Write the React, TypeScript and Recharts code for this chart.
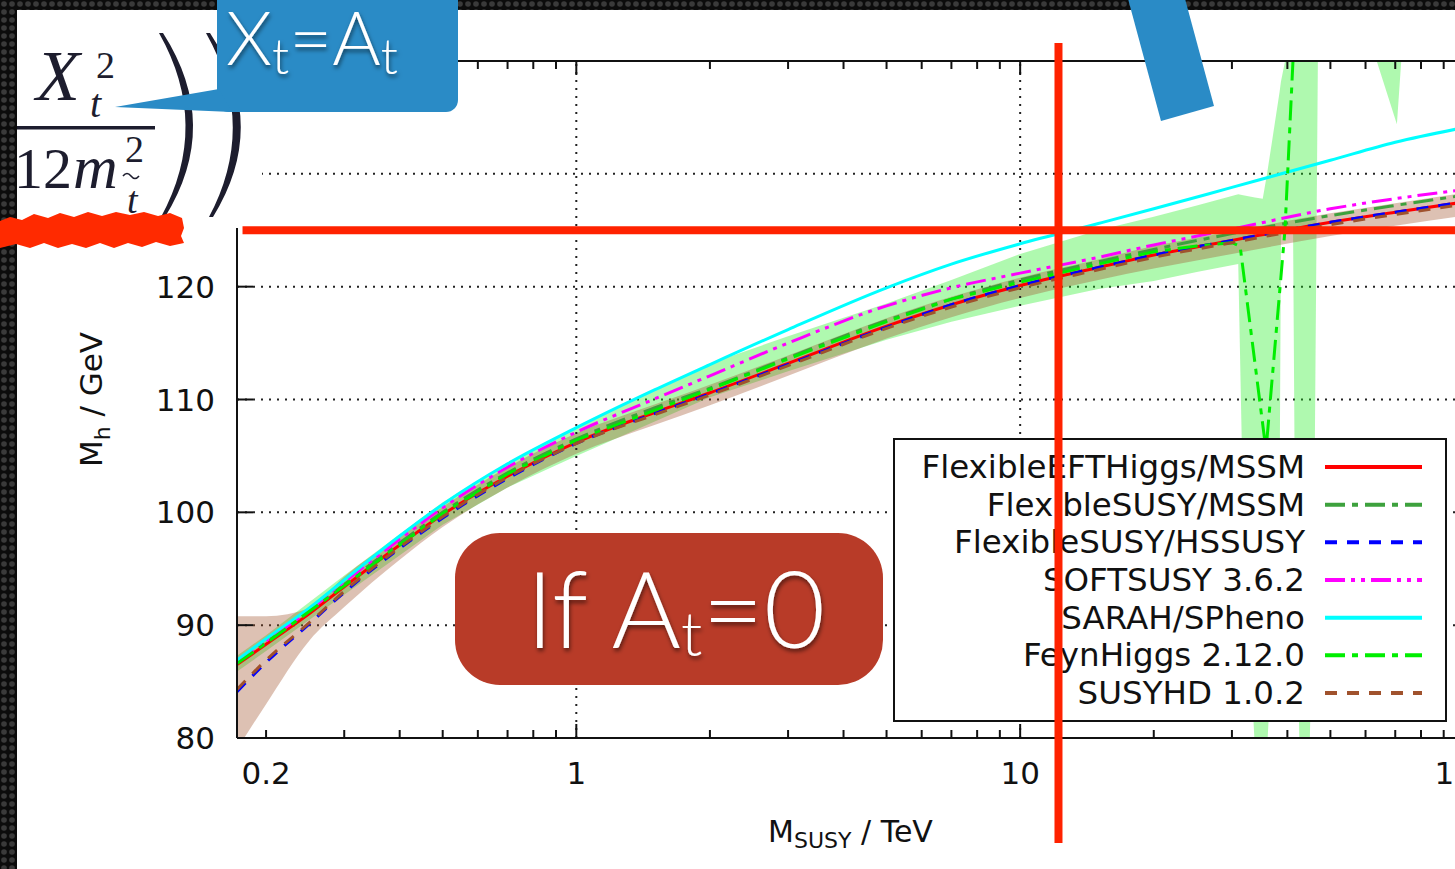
import React from 'react';
import { ComposedChart, Line, Area, XAxis, YAxis, CartesianGrid, ReferenceLine, Legend } from 'recharts';

// ---------- data ----------
const MSUSY = [0.172, 0.2, 0.25, 0.3, 0.4, 0.5, 0.7, 1, 1.5, 2, 3, 5, 7, 10, 15, 20, 30, 50, 70, 100];
const FLEXIBLE_EFT_HIGGS = [86.5, 88.3, 91.0, 93.4, 97.1, 99.8, 103.2, 106.2, 108.85, 110.6, 113.2, 116.5, 118.4, 120.1, 121.7, 122.8, 124.1, 125.7, 126.6, 127.5];
const FLEXIBLE_SUSY_MSSM = [86.7, 88.5, 91.2, 93.6, 97.3, 100.0, 103.5, 106.5, 109.25, 111.0, 113.7, 117.0, 118.9, 120.6, 122.2, 123.3, 124.7, 126.3, 127.2, 128.1];
const FLEXIBLE_SUSY_HSSUSY = [84.1, 86.7, 90.1, 92.9, 96.8, 99.5, 103.0, 106.1, 108.75, 110.5, 113.1, 116.4, 118.4, 120.1, 121.7, 122.8, 124.1, 125.7, 126.6, 127.5];
const SOFTSUSY = [86.8, 88.6, 91.3, 93.8, 97.6, 100.4, 104.0, 107.1, 110.05, 112.1, 115.0, 118.3, 119.9, 121.2, 122.6, 123.7, 125.1, 126.9, 127.8, 128.6];
const SARAH_SPHENO = [86.9, 88.8, 91.5, 94.0, 97.9, 100.7, 104.3, 107.5, 110.85, 113.1, 116.2, 119.9, 122.0, 123.8, 125.6, 126.9, 128.8, 131.2, 132.8, 134.1];
const SUSYHD = [84.3, 86.9, 90.2, 93.0, 96.9, 99.6, 103.1, 106.1, 108.65, 110.4, 113.0, 116.3, 118.2, 119.9, 121.5, 122.6, 123.9, 125.5, 126.4, 127.3];
const SUSYHD_LOW = [79.0, 83.0, 88.6, 91.6, 95.8, 98.7, 102.2, 105.2, 107.75, 109.5, 112.1, 115.4, 117.3, 119.0, 120.6, 121.6, 122.9, 124.5, 125.4, 126.3];
const SUSYHD_HIGH = [90.8, 90.8, 91.5, 94.3, 97.9, 100.5, 104.0, 107.0, 109.55, 111.3, 113.9, 117.2, 119.1, 120.8, 122.4, 123.6, 124.9, 126.5, 127.4, 128.3];

const FH_MSUSY = [0.172, 0.2, 0.3, 0.5, 0.7, 1, 2, 3, 5, 7, 10, 15, 20, 25, 30, 31.3, 35.8, 39.5, 41.2, 43, 100];
const FH_MH = [86.6, 88.4, 93.5, 99.9, 103.4, 106.4, 110.9, 113.6, 116.9, 118.9, 120.4, 122.0, 123.1, 123.6, 123.9, 123.6, 105.5, 125.0, 140.2, 170, 170];

const FH_BAND_MSUSY = [0.172, 0.2, 0.3, 0.5, 0.7, 1, 2, 3, 5, 7, 10, 15, 20, 25, 31.0, 31.8, 33.8, 35.2, 36.0, 38.4, 38.7, 40.0, 41.2, 41.6, 42.6, 44.9, 46.0, 46.9, 60, 62.4, 70.6, 72.5, 80, 100];
const FH_BAND_LOW = [85.9, 87.7, 92.7, 98.9, 102.2, 105.0, 110.2, 112.5, 115.3, 116.9, 118.3, 119.8, 120.5, 121.3, 122.0, 100, 79, 79, 79, 100, 124.7, 124.9, 125.0, 100, 79, 79, 100, 142, 150, 141, 134.4, 141, 150, 150];
const FH_BAND_HIGH = [87.3, 89.1, 94.4, 100.9, 104.4, 107.5, 113.2, 115.6, 118.5, 120.6, 122.9, 125.0, 126.2, 127.2, 128.2, 128.1, 127.9, 127.8, 130.0, 137.2, 138.2, 141, 150, 150, 150, 150, 150, 150, 160, 160, 160, 160, 160, 160];

const X_TICKS = [0.2, 0.3, 0.4, 0.5, 0.6, 0.7, 0.8, 0.9, 1, 2, 3, 4, 5, 6, 7, 8, 9, 10, 20, 30, 40, 50, 60, 70, 80, 90, 100];
const X_LABELS = [0.2, 1, 10, 100];
const X_MAJOR = [1, 10, 100];
const Y_TICKS = [80, 90, 100, 110, 120, 130, 140];
const X_DOMAIN = [0.172, 100];
const Y_DOMAIN = [80, 140];

const HIGGS_MASS = 125;
const HIGGS_LINE_START = 0.177;
const MSUSY_MARK = 12.2;
const MARK_Y_TOP = 141.6;
const MARK_Y_BOTTOM = 70.7;

const SERIES = [
  { name: 'FlexibleEFTHiggs/MSSM', values: FLEXIBLE_EFT_HIGGS, color: '#ff0000', dash: undefined as string | undefined },
  { name: 'FlexibleSUSY/MSSM', values: FLEXIBLE_SUSY_MSSM, color: '#3da13d', dash: '20 7 6 7' },
  { name: 'FlexibleSUSY/HSSUSY', values: FLEXIBLE_SUSY_HSSUSY, color: '#0000ff', dash: '12 10' },
  { name: 'SOFTSUSY 3.6.2', values: SOFTSUSY, color: '#ff00ff', dash: '20 6 4 6 4 6' },
  { name: 'SARAH/SPheno', values: SARAH_SPHENO, color: '#00ffff', dash: undefined },
  { name: 'FeynHiggs 2.12.0', values: FH_MH, color: '#00ee00', dash: '20 7 6 7' },
  { name: 'SUSYHD 1.0.2', values: SUSYHD, color: '#a0522d', dash: '12 10' },
];

const FONT = '"DejaVu Sans", Verdana, sans-serif';
const W = 1500;
const H = 869;
const MARGIN = { top: 60, right: 36, bottom: 0, left: 0 };
const TOP_AXIS_H = 1;
const Y_AXIS_W = 237;
const X_AXIS_H = 131;

const toRows = (xs: number[], ys: number[]) => xs.map((m, i) => ({ m, v: ys[i] }));
const toBand = (xs: number[], lo: number[], hi: number[]) => xs.map((m, i) => ({ m, band: [lo[i], hi[i]] }));

const fhBandData = toBand(FH_BAND_MSUSY, FH_BAND_LOW, FH_BAND_HIGH);
const shdBandData = toBand(MSUSY, SUSYHD_LOW, SUSYHD_HIGH);

const BottomTick = (props: any) => {
  const { x, y, payload } = props;
  const v = payload.value;
  const major = X_MAJOR.includes(v);
  return (
    <g>
      <line x1={x} x2={x} y1={y} y2={y - (major ? 14 : 8)} stroke="#111" strokeWidth={2} />
      {X_LABELS.includes(v) && (
        <text x={x} y={y + 46} textAnchor="middle" fontSize={31} fontFamily={FONT} fill="#111">{String(v)}</text>
      )}
    </g>
  );
};
const TopTick = (props: any) => {
  const { x, y, payload } = props;
  const major = X_MAJOR.includes(payload.value);
  return <line x1={x} x2={x} y1={y} y2={y + (major ? 14 : 8)} stroke="#111" strokeWidth={2} />;
};
const LeftTick = (props: any) => {
  const { x, y, payload } = props;
  return (
    <g>
      <line x1={x} x2={x + 16} y1={y} y2={y} stroke="#111" strokeWidth={2} />
      <text x={x - 22} y={y + 11} textAnchor="end" fontSize={31} fontFamily={FONT} fill="#111">{String(payload.value)}</text>
    </g>
  );
};
const RightTick = (props: any) => {
  const { x, y } = props;
  return <line x1={x} x2={x - 16} y1={y} y2={y} stroke="#111" strokeWidth={2} />;
};

const XTitle = (props: any) => {
  const vb = props.viewBox || { x: Y_AXIS_W, y: 738, width: 1227, height: X_AXIS_H };
  const cx = vb.x + vb.width / 2;
  return (
    <text x={cx} y={vb.y + 104} textAnchor="middle" fontSize={30} fontFamily={FONT} fill="#111">
      M<tspan fontSize={22} dy={6}>SUSY</tspan><tspan fontSize={30} dy={-6}> / TeV</tspan>
    </text>
  );
};
const YTitle = (props: any) => {
  const vb = props.viewBox || { x: 0, y: 61, width: Y_AXIS_W, height: 677 };
  const cy = vb.y + vb.height / 2;
  return (
    <text transform={`translate(${vb.x + 102}, ${cy}) rotate(-90)`} textAnchor="middle" fontSize={31} fontFamily={FONT} fill="#111">
      M<tspan fontSize={22} dy={8}>h</tspan><tspan fontSize={31} dy={-8}> / GeV</tspan>
    </text>
  );
};

const LegendBox = () => (
  <svg width={554} height={284} style={{ display: 'block' }}>
    <rect x={1} y={1} width={552} height={282} fill="#fff" stroke="#111" strokeWidth={2} />
    {SERIES.map((s, i) => {
      const cy = 29 + i * 37.67;
      return (
        <g key={s.name}>
          <text x={412} y={cy + 11} textAnchor="end" fontSize={32.5} fontFamily={FONT} fill="#111">{s.name}</text>
          <line x1={432} x2={529} y1={cy} y2={cy} stroke={s.color} strokeWidth={4} strokeDasharray={s.dash} />
        </g>
      );
    })}
  </svg>
);

const GRID_DASH = '2 6';

export default function App() {
  return (
    <div style={{ position: 'absolute', left: 0, top: 0, width: 1455, height: 869, overflow: 'hidden', background: '#fff' }}>
      <div style={{ position: 'absolute', left: 0, top: 0 }}>
        <ComposedChart width={W} height={H} margin={MARGIN}>
          <CartesianGrid vertical={false} stroke="#222" strokeWidth={2} strokeDasharray={GRID_DASH} />
          <ReferenceLine x={1} stroke="#222" strokeWidth={2} strokeDasharray={GRID_DASH} />
          <ReferenceLine x={10} stroke="#222" strokeWidth={2} strokeDasharray={GRID_DASH} />
          <XAxis dataKey="m" type="number" scale="log" domain={X_DOMAIN} allowDataOverflow ticks={X_TICKS} interval={0}
            height={X_AXIS_H} tickSize={0} tickMargin={0} tickLine={false} tick={<BottomTick />}
            axisLine={{ stroke: '#111', strokeWidth: 2 }} label={<XTitle />} />
          <XAxis xAxisId="top" orientation="top" dataKey="m" type="number" scale="log" domain={X_DOMAIN} allowDataOverflow
            ticks={X_TICKS} interval={0} height={TOP_AXIS_H} tickSize={0} tickMargin={0} tickLine={false} tick={<TopTick />}
            axisLine={{ stroke: '#111', strokeWidth: 2 }} />
          <YAxis type="number" domain={Y_DOMAIN} allowDataOverflow ticks={Y_TICKS} interval={0} width={Y_AXIS_W}
            tickSize={0} tickMargin={0} tickLine={false} tick={<LeftTick />} axisLine={{ stroke: '#111', strokeWidth: 2 }}
            label={<YTitle />} />
          <YAxis yAxisId="r" orientation="right" type="number" domain={Y_DOMAIN} allowDataOverflow ticks={Y_TICKS}
            interval={0} width={0} tickSize={0} tickMargin={0} tickLine={false} tick={<RightTick />}
            axisLine={{ stroke: '#111', strokeWidth: 2 }} />
          <Area data={fhBandData} dataKey="band" type="linear" stroke="none" fill="#22ee22" fillOpacity={0.36}
            isAnimationActive={false} legendType="none" activeDot={false} />
          <Area data={shdBandData} dataKey="band" type="monotone" stroke="none" fill="#a0522d" fillOpacity={0.36}
            isAnimationActive={false} legendType="none" activeDot={false} />
          {SERIES.map((s) => (
            <Line key={s.name} name={s.name}
              data={s.name.startsWith('FeynHiggs') ? toRows(FH_MSUSY, s.values) : toRows(MSUSY, s.values)}
              dataKey="v" type={s.name.startsWith('FeynHiggs') ? 'linear' : 'monotone'}
              stroke={s.color} strokeWidth={3} strokeDasharray={s.dash} dot={false} activeDot={false}
              isAnimationActive={false} />
          ))}
          <Legend layout="vertical" align="center" verticalAlign="middle" content={() => <LegendBox />}
            wrapperStyle={{ left: 893, top: 438, width: 554, height: 284 }} />
        </ComposedChart>
      </div>

      {/* slide annotation: formula image region */}
      <svg width={1455} height={869} style={{ position: 'absolute', left: 0, top: 0, pointerEvents: 'none' }}>
        <defs>
          <pattern id="dots" width={8} height={8} patternUnits="userSpaceOnUse">
            <rect width={8} height={8} fill="#0c0c0c" />
            <circle cx={4} cy={4} r={2.8} fill="#3a3a3a" />
          </pattern>
        </defs>
        <rect x={17} y={10} width={245} height={218} fill="#fff" />
        <g fill="#1d1d2e" fontFamily='"Liberation Serif", "DejaVu Serif", serif'>
          <text x={36} y={100} fontSize={72} fontStyle="italic">X</text>
          <text x={96} y={78} fontSize={38}>2</text>
          <text x={90} y={117} fontSize={40} fontStyle="italic">t</text>
          <rect x={10} y={126} width={145} height={3.5} />
          <text x={14} y={188} fontSize={58}>12</text>
          <text x={73} y={188} fontSize={62} fontStyle="italic">m</text>
          <text x={125} y={162} fontSize={38}>2</text>
          <path d="M123,176 q4,-5 8,0 t8,0" stroke="#1d1d2e" strokeWidth={1.6} fill="none" />
          <text x={127} y={213} fontSize={38} fontStyle="italic">t</text>
          <path d="M163,33 Q222,125 165,217 L161,217 Q211,125 159,33 Z" />
          <path d="M210,33 Q270,125 213,217 L209,217 Q258,125 206,33 Z" />
        </g>
        <rect x={0} y={0} width={1455} height={10} fill="url(#dots)" />
        <rect x={0} y={0} width={17} height={869} fill="url(#dots)" />
      </svg>

      {/* red marker lines through the chart's own scales */}
      <div style={{ position: 'absolute', left: 0, top: 0, pointerEvents: 'none' }}>
        <ComposedChart width={W} height={H}
          margin={{ top: MARGIN.top + TOP_AXIS_H, right: MARGIN.right, bottom: X_AXIS_H, left: Y_AXIS_W }}
          data={toRows(MSUSY, FLEXIBLE_EFT_HIGGS)}>
          <XAxis dataKey="m" type="number" scale="log" domain={X_DOMAIN} allowDataOverflow hide />
          <YAxis type="number" domain={Y_DOMAIN} allowDataOverflow hide />
          <ReferenceLine segment={[{ x: HIGGS_LINE_START, y: HIGGS_MASS }, { x: X_DOMAIN[1], y: HIGGS_MASS }]}
            stroke="#ff2200" strokeWidth={8} ifOverflow="visible" />
          <ReferenceLine segment={[{ x: MSUSY_MARK, y: MARK_Y_TOP }, { x: MSUSY_MARK, y: MARK_Y_BOTTOM }]}
            stroke="#ff2200" strokeWidth={8} ifOverflow="visible" />
        </ComposedChart>
      </div>

      {/* slide callouts */}
      <svg width={1455} height={869} style={{ position: 'absolute', left: 0, top: 0, pointerEvents: 'none' }}>
        <defs>
          <filter id="shadow" x="-20%" y="-20%" width="140%" height="140%">
            <feDropShadow dx={1} dy={3} stdDeviation={2} floodColor="#000" floodOpacity={0.55} />
          </filter>
        </defs>
        <polygon points="1127,-5 1184,-5 1214,106 1161,121" fill="#2a8bc6" />
        <rect x={217} y={-14} width={241} height={126} rx={12} fill="#2a8bc6" />
        <polygon points="219,89 115,107 232,112" fill="#2a8bc6" />
        <text x={226} y={65} fontSize={74} fontWeight={300} fill="#fff" fontFamily="Lato, 'Open Sans', sans-serif" filter="url(#shadow)">
          X<tspan fontSize={50} dy={9}>t</tspan><tspan fontSize={74} dy={-9}>=A</tspan><tspan fontSize={50} dy={9}>t</tspan>
        </text>
        <path
          d="M0,221 L10,217 L22,220 L34,214 L48,218 L60,213 L74,217 L88,212 L102,216 L116,212 L130,215 L144,212 L158,216 L170,213 L182,218 L184,228 L181,236 L184,243 L170,246 L156,242 L142,247 L128,243 L114,248 L100,243 L86,248 L72,244 L58,248 L44,243 L30,248 L16,244 L0,248 Z"
          fill="#ff2a00" />
        <rect x={455} y={533} width={428} height={152} rx={45} fill="#b83b28" />
        <text x={526} y={648} fontSize={106} fontWeight={300} fill="#fff" fontFamily="Lato, 'Open Sans', sans-serif" filter="url(#shadow)">
          If A<tspan fontSize={62} dy={8}>t</tspan><tspan fontSize={106} dy={-8}>=0</tspan>
        </text>
      </svg>
    </div>
  );
}
